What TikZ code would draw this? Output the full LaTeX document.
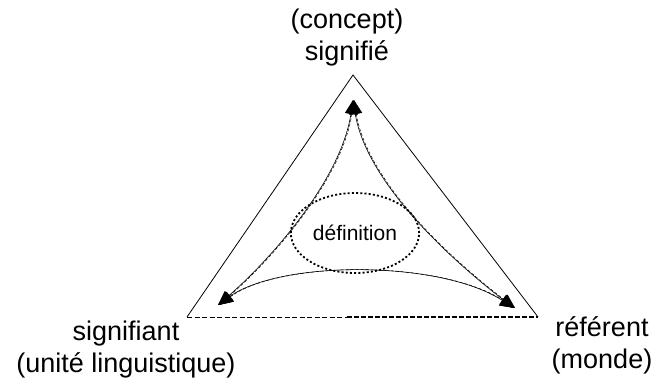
\documentclass[tikz,border=0pt]{standalone}
\usepackage{fontspec}
\setmainfont{Liberation Sans}
\usetikzlibrary{arrows.meta,positioning,shapes.geometric}

\begin{document}
\begin{tikzpicture}[x=1pt,y=-1pt,>={Triangle[length=14pt,width=12pt]},
  pole/.style={align=center, inner sep=0pt, font=\fontsize{27}{32}\selectfont},
  side/.style={line width=0.8pt},
  link/.style={<->, line width=0.6pt, postaction={draw, densely dashed, line width=0.5pt, transform canvas={xshift=1pt}}}]
  \useasboundingbox (0,0) rectangle (657,383);
  % triangle corners
  \coordinate (apex) at (353,75);
  \coordinate (left) at (187,317);
  \coordinate (right) at (538,317);
  \coordinate (mid) at (347,317);
  \draw[side] (left) -- (apex) -- (right);
  \draw[line width=0.8pt, dash pattern=on 5pt off 2.5pt] (left) -- (mid);
  \draw[line width=1.4pt, dash pattern=on 5pt off 2pt] (mid) -- (right);
  % labels (base = last line)
  \node[pole, anchor=base] (signifie) at (347,60) {(concept)\\signifié};
  \node[pole, anchor=base] (signifiant) at (126,372) {signifiant\\(unité linguistique)};
  \node[pole, anchor=base] (referent) at (602,368) {référent\\(monde)};
  \node[ellipse, draw, line width=1.8pt, dash pattern=on 2pt off 2.2pt, minimum width=128, minimum height=80, font=\fontsize{21}{25}\selectfont] (def) at (355,233) {définition};
  % arrows between the poles
  \coordinate (t) at (353,100);
  \coordinate (bl) at (218,305);
  \coordinate (br) at (514,308);
  \draw[link] (t) .. controls (341,180) and (270,260) .. (bl);
  \draw[link] (t) .. controls (366,180) and (445,255) .. (br);
  \draw[link] (bl) .. controls (280,260) and (440,260) .. (br);
\end{tikzpicture}
\end{document}
